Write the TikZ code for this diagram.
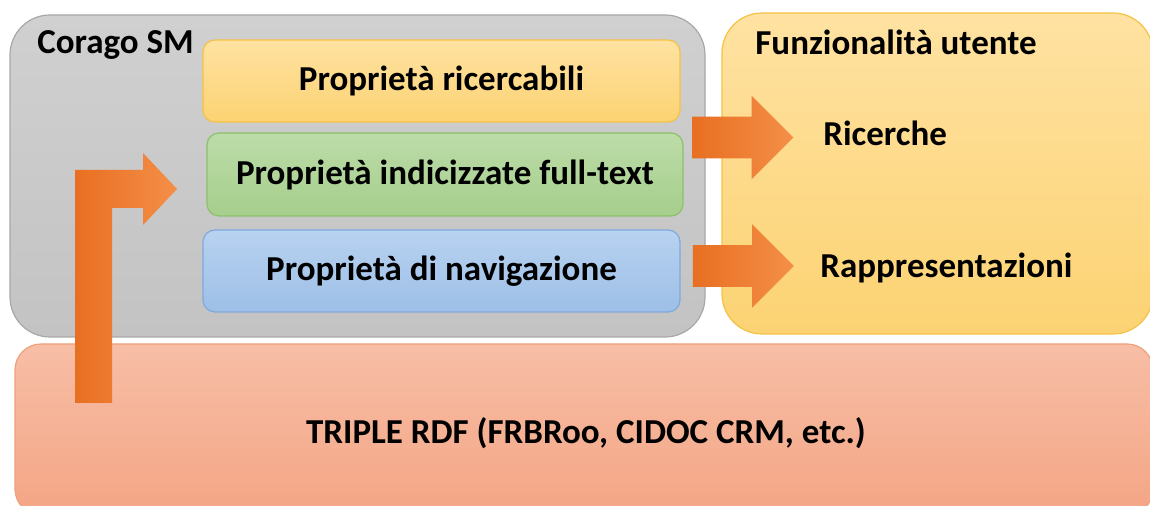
\documentclass[tikz,border=0pt]{standalone}
\usepackage{fontspec}
\setmainfont{Carlito}
\usepackage{tikz}
\usetikzlibrary{shapes,arrows,backgrounds,positioning}
\definecolor{grayA}{HTML}{D0D0D0}
\definecolor{grayB}{HTML}{C3C3C3}
\definecolor{grayE}{HTML}{A8A8A8}
\definecolor{yelA}{HTML}{FFE2A2}
\definecolor{yelB}{HTML}{FCD373}
\definecolor{yelE}{HTML}{F4C244}
\definecolor{grnA}{HTML}{BCDCA8}
\definecolor{grnB}{HTML}{A6CE8C}
\definecolor{grnE}{HTML}{8DC06A}
\definecolor{bluA}{HTML}{B8D2F1}
\definecolor{bluB}{HTML}{9DBFE6}
\definecolor{bluE}{HTML}{80A9DA}
\definecolor{salA}{HTML}{F7BEA6}
\definecolor{salB}{HTML}{F4A584}
\definecolor{salE}{HTML}{EFA07C}
\definecolor{orgA}{HTML}{E86F22}
\definecolor{orgB}{HTML}{F48F48}
\tikzstyle{area}=[rectangle, rounded corners=20pt, inner sep=0pt, line width=0.6pt]
\tikzstyle{prop}=[rectangle, rounded corners=6pt, inner sep=0pt, line width=0.6pt, minimum width=238.5pt, minimum height=41pt, font=\fontsize{17.5}{21}\selectfont\bfseries]
\tikzstyle{title}=[inner sep=0pt, font=\fontsize{17.5}{21}\selectfont\bfseries]
\tikzstyle{blockarrow}=[single arrow, draw=none, inner xsep=0pt, inner ysep=10.25pt, minimum height=50.5pt, single arrow head extend=10.5pt, left color=orgA, right color=orgB]

\begin{document}
\begin{tikzpicture}[x=0.5pt,y=-0.5pt]
\useasboundingbox (0,0) rectangle (1150,506);
%Areas
\node[area, draw=grayE, top color=grayA, bottom color=grayB, minimum width=347.5pt, minimum height=161pt] (corago) at (357.5,176){};
\node[area, draw=yelE, top color=yelA, bottom color=yelB, minimum width=215.5pt, minimum height=160.5pt] (funz) at (937.5,173.5){};
\node[area, rounded corners=13pt, draw=salE, top color=salA, bottom color=salB, minimum width=569pt, minimum height=85.5pt] (triple) at (584,429.5){};
%Properties
\node[prop, draw=yelE, top color=yelA, bottom color=yelB] (ric) at (441.5,81){Proprietà ricercabili};
\node[prop, draw=grnE, top color=grnA, bottom color=grnB, minimum width=238pt, minimum height=41.5pt] (full) at (445,174.5){Proprietà indicizzate full-text};
\node[prop, draw=bluE, top color=bluA, bottom color=bluB] (nav) at (441.5,271){Proprietà di navigazione};
%Titles
\node[title, anchor=west] (coragot) at (37,45){Corago SM};
\node[title, anchor=west] (funzt) at (755,42){Funzionalità utente};
\node[title, anchor=west] (ricerche) at (823,133){Ricerche};
\node[title, anchor=west] (rappr) at (820,268){Rappresentazioni};
\node[title] (triplet) at (586,433){TRIPLE RDF (FRBRoo, CIDOC CRM, etc.)};
%Arrows
\node[blockarrow] (ar1) at (732.5,137.5){};
\node[blockarrow] (ar2) at (733,266){};
\shade[left color=orgA, right color=orgB] (75,403) -- (75,170) -- (143,170) -- (143,153) -- (177,189) -- (143,225) -- (143,208) -- (112,208) -- (112,403) -- cycle;
\end{tikzpicture}
\end{document}
